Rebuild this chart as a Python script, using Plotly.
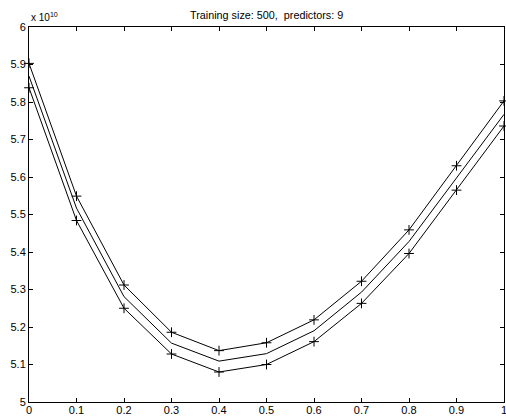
import plotly.graph_objects as go

x_vals = [0, 0.1, 0.2, 0.3, 0.4, 0.5, 0.6, 0.7, 0.8, 0.9, 1.0]
upper = [5.903, 5.549, 5.312, 5.186, 5.137, 5.158, 5.219, 5.322, 5.459, 5.630, 5.803]
middle = [5.869, 5.517, 5.281, 5.157, 5.109, 5.129, 5.190, 5.293, 5.428, 5.598, 5.767]
lower = [5.838, 5.484, 5.250, 5.128, 5.080, 5.100, 5.161, 5.263, 5.396, 5.565, 5.736]
y_ticks = [5.0, 5.1, 5.2, 5.3, 5.4, 5.5, 5.6, 5.7, 5.8, 5.9, 6.0]
y_ticktext = ["5", "5.1", "5.2", "5.3", "5.4", "5.5", "5.6", "5.7", "5.8", "5.9", "6"]
x_ticks = [0, 0.1, 0.2, 0.3, 0.4, 0.5, 0.6, 0.7, 0.8, 0.9, 1.0]
x_ticktext = ["0", "0.1", "0.2", "0.3", "0.4", "0.5", "0.6", "0.7", "0.8", "0.9", "1"]

fig = go.Figure()
marker_style = dict(symbol="cross-thin", size=7, line=dict(color="black", width=1), color="black")
fig.add_trace(go.Scatter(x=x_vals, y=upper, mode="lines+markers",
                         line=dict(color="black", width=1), marker=marker_style, cliponaxis=False))
fig.add_trace(go.Scatter(x=x_vals, y=middle, mode="lines",
                         line=dict(color="black", width=1)))
fig.add_trace(go.Scatter(x=x_vals, y=lower, mode="lines+markers",
                         line=dict(color="black", width=1), marker=marker_style, cliponaxis=False))

axis_common = dict(showline=True, linecolor="black", linewidth=1, mirror="ticks",
                   ticks="inside", ticklen=4, tickcolor="black", showgrid=False, zeroline=False,
                   automargin=False, ticklabeloverflow="allow",
                   tickfont=dict(family="Liberation Sans, Arial", size=11, color="black"))

fig.update_xaxes(range=[0, 1], tickvals=x_ticks, ticktext=x_ticktext, ticklabelstandoff=-2, **axis_common)
fig.update_yaxes(range=[5.0, 6.0], tickvals=y_ticks, ticktext=y_ticktext, **axis_common)

fig.add_annotation(text="Training size: 500,  predictors: 9", xref="paper", yref="paper",
                   x=0.5, y=1, yshift=12, xanchor="center", yanchor="middle", showarrow=False,
                   font=dict(family="Liberation Sans, Arial", size=10.8, color="black"))
fig.add_annotation(text="x 10<sup>10</sup>", xref="paper", yref="paper",
                   x=0, y=1, yshift=10, xanchor="left", yanchor="middle", showarrow=False,
                   font=dict(family="Liberation Sans, Arial", size=10, color="black"))

fig.update_layout(width=506, height=416, margin=dict(l=29, r=2, t=27, b=14),
                  showlegend=False, plot_bgcolor="white", paper_bgcolor="white")

fig.write_html("out.html", config={"displayModeBar": False},
               post_script="document.body.style.margin='0';document.body.style.overflow='hidden';")
